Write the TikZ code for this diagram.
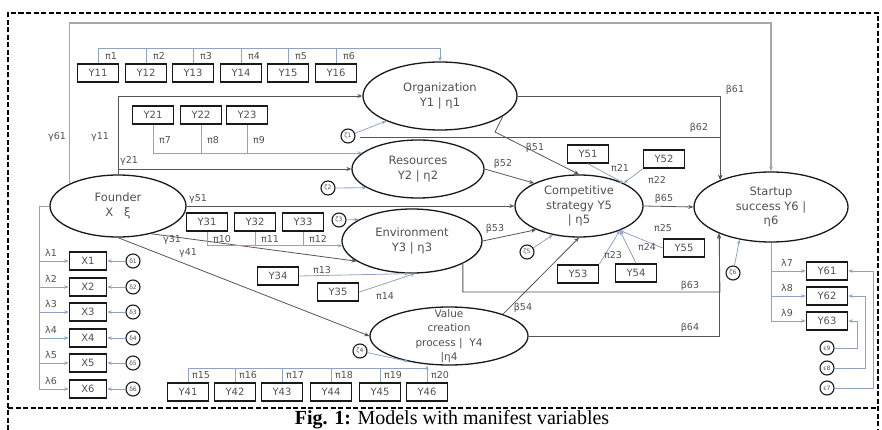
\documentclass[tikz,border=0pt]{standalone}
\usepackage{fontspec}
\setmainfont{Liberation Serif}
\newfontfamily\labf{DejaVu Sans}
\usetikzlibrary{arrows.meta,shapes.geometric}
\definecolor{txtg}{HTML}{505050}
\definecolor{lineg}{HTML}{555555}
\definecolor{indc}{HTML}{8DA4C4}
\definecolor{outg}{HTML}{A8A8A8}
\begin{document}
\begin{tikzpicture}[x=1pt,y=-1pt,
 lat/.style={ellipse,draw=black!90,line width=1.3pt,inner sep=0pt},
 ltx/.style={font=\labf\fontsize{11.5}{14.5}\selectfont,text=txtg,align=center,inner sep=0pt},
 obs/.style={rectangle,draw=black!90,line width=1.6pt,minimum width=41pt,minimum height=18pt,inner sep=0pt,font=\labf\fontsize{10}{11}\selectfont,text=txtg},
 xob/.style={obs,minimum width=37pt},
 err/.style={circle,draw=black!90,line width=1.1pt,minimum size=14pt,inner sep=0pt,font=\labf\fontsize{6}{7}\selectfont,text=txtg},
 cn/.style={draw=lineg,line width=0.8pt,-{Stealth[length=5pt,width=4pt]}},
 outl/.style={draw=outg,line width=1.5pt,-{Stealth[length=5pt,width=4pt]}},
 ind/.style={draw=indc,line width=0.8pt,-{Stealth[length=4.5pt,width=3.5pt]}},
 indn/.style={draw=indc,line width=0.8pt},
 lb/.style={font=\labf\fontsize{9.5}{10}\selectfont,text=txtg,inner sep=1pt},
]
\useasboundingbox (0,0) rectangle (882,430);
% frame
\draw[line width=1.4pt,dash pattern=on 5pt off 2.5pt] (8,430) -- (8,13) -- (878,13) -- (878,430);
\draw[line width=1.4pt,dash pattern=on 5pt off 2.5pt] (8,408) -- (878,408);
\node[inner sep=0pt,anchor=base,font=\fontsize{20}{23}\selectfont] (cap) at (452,424) {\textbf{Fig. 1:} Models with manifest variables};

% latent variables
\node[lat,minimum width=154pt,minimum height=68pt] (org) at (440,96) {};
\node[ltx] (orgT) at (440,96) {Organization\\Y1 | η1};
\node[lat,minimum width=132pt,minimum height=58pt] (res) at (418,169) {};
\node[ltx] (resT) at (418,169) {Resources\\Y2 | η2};
\node[lat,minimum width=136pt,minimum height=62pt] (fou) at (118,206) {};
\node[ltx] (fouT) at (118,206) {Founder\\X \ \ ξ};
\node[lat,minimum width=140pt,minimum height=64pt] (env) at (412,241) {};
\node[ltx] (envT) at (412,241) {Environment\\Y3 | η3};
\node[lat,minimum width=128pt,minimum height=62pt] (cmp) at (579,206) {};
\node[ltx] (cmpT) at (579,206) {Competitive\\strategy Y5\\| η5};
\node[lat,minimum width=154pt,minimum height=70pt] (sta) at (771,207) {};
\node[ltx] (staT) at (771,207) {Startup\\success Y6 |\\η6};
\node[lat,minimum width=158pt,minimum height=58pt] (val) at (449,336) {};
\node[ltx,font=\labf\fontsize{10.5}{14.5}\selectfont] (valT) at (449,336) {Value\\creation\\process | \ Y4\\|η4};

% observed variables
\foreach \i/\x in {1/98,2/146,3/193,4/241,5/288,6/336} \node[obs] (y1\i) at (\x,73) {Y1\i};
\foreach \i/\x in {1/153,2/201,3/247} \node[obs] (y2\i) at (\x,115) {Y2\i};
\foreach \i/\x in {1/207,2/255,3/303} \node[obs] (y3\i) at (\x,222) {Y3\i};
\node[obs] (y34) at (278,276) {Y34};
\node[obs] (y35) at (338,292) {Y35};
\foreach \i/\x in {1/188,2/235,3/282,4/331,5/380,6/427} \node[obs] (y4\i) at (\x,392) {Y4\i};
\node[obs] (y51) at (588,154) {Y51};
\node[obs] (y52) at (664,159) {Y52};
\node[obs] (y53) at (578,274) {Y53};
\node[obs] (y54) at (636,273) {Y54};
\node[obs] (y55) at (684,248) {Y55};
\foreach \i/\y in {1/261,2/287,3/312,4/338,5/363,6/389} {
  \node[xob] (x\i) at (88,\y) {X\i};
  \node[err] (d\i) at (133,\y) {δ\i};
}
\foreach \i/\y in {1/271,2/296,3/321} \node[obs] (y6\i) at (827,\y) {Y6\i};
\node[err] (e9) at (827,348) {ε9};
\node[err] (e8) at (827,368) {ε8};
\node[err] (e7) at (827,388) {ε7};
\node[err] (z1) at (348,136) {ζ1};
\node[err] (z2) at (328,188) {ζ2};
\node[err] (z3) at (339,220) {ζ3};
\node[err] (z4) at (360,351) {ζ4};
\node[err] (z5) at (527,252) {ζ5};
\node[err] (z6) at (733,273) {ζ6};

% coordinates
\coordinate (tr) at (771,23);
\coordinate (p1) at (440,48);
\coordinate (p4) at (427,368);
\coordinate (b51k) at (495,132);
\coordinate (b62s) at (360,137);
\coordinate (b63c) at (720,292);
\coordinate (xl) at (39,206);

% structural paths
\draw[outl] (fou.155.5) |- (tr) -- (sta.north);
\draw[cn] (fou.north) |- (org.west);
\draw[cn] (fou.north) |- (res.west);
\draw[cn] (fou.east) -- (cmp.west);
\draw[cn] (fou.-40) -- (env.200);
\draw[cn] (fou.south) -- (val.west);
\draw[cn] (org.-18) -- (b51k) -- (cmp.north);
\draw[cn] (res.east) -- (cmp.153);
\draw[cn] (env.east) -- (cmp.209);
\draw[cn] (val.22) -- (cmp.south);
\draw[cn] (cmp.east) -- (sta.west);
\draw[cn] (org.east) -| (sta.152.8);
\draw[cn] (b62s) -| (sta.152.8);
\draw[cn] (env.-24.1) |- (b63c) -- (sta.207.2);
\draw[cn] (val.east) -| (sta.207.2);

% indicator brackets
\draw[ind] (y11.north) |- (p1) -- (org.north);
\foreach \i in {2,...,6} \draw[indn] (y1\i.north) -- (y1\i.north |- p1);
\draw[ind] (y21.south) |- (res.164);
\foreach \i in {2,3} \draw[indn] (y2\i.south) -- (y2\i.south |- res.164);
\draw[ind] (y31.south) |- (env.184);
\foreach \i in {2,3} \draw[indn] (y3\i.south) -- (y3\i.south |- env.184);
\draw[ind] (y34.east) -- (env.-95);
\draw[ind] (y35.east) -- (env.-85);
\draw[indn] (y41.north) |- (p4);
\foreach \i in {2,...,5} \draw[indn] (y4\i.north) -- (y4\i.north |- p4);
\draw[ind] (y46.north) -- (y46.north |- val.south);
\draw[ind] (y51.south) -- (cmp.27);
\draw[ind] (y52.south west) -- (cmp.27);
\draw[ind] (y53.north east) -- (cmp.-31);
\draw[ind] (y54.north) -- (cmp.-31);
\draw[ind] (y55.west) -- (cmp.-31);
\draw[indn] (fou.west) -- (xl) -- (xl |- x6.west);
\foreach \i in {1,...,6} {
  \draw[ind] (xl |- x\i.west) -- (x\i.west);
  \draw[ind] (d\i.west) -- (x\i.east);
}
\draw[indn] (sta.south) -- (sta.south |- y63.west);
\foreach \i in {1,2,3} \draw[ind] (sta.south |- y6\i.west) -- (y6\i.west);
\draw[ind] (e9.east) -- ++(23,0) |- (y63.east);
\draw[ind] (e8.east) -- ++(31,0) |- (y62.east);
\draw[ind] (e7.east) -- ++(39,0) |- (y61.east);
\draw[ind] (z1) -- (org.205);
\draw[ind] (z2) -- (res.200);
\draw[ind] (z3) -- (env.158);
\draw[ind] (z4) -- (val.212);
\draw[ind] (z5) -- (cmp.228);
\draw[ind] (z6) -- (sta.226);

% labels
\node[lb] (lg61) at (57,137) {γ61};
\node[lb] (lg11) at (100,137) {γ11};
\node[lb] (lg21) at (129,161) {γ21};
\node[lb] (lg51) at (198,199) {γ51};
\node[lb] (lg31) at (172,240) {γ31};
\node[lb] (lg41) at (188,253) {γ41};
\node[lb] (lb61) at (735,90) {β61};
\node[lb] (lb62) at (699,128) {β62};
\node[lb] (lb51) at (535,148) {β51};
\node[lb] (lb52) at (503,164) {β52};
\node[lb] (lb53) at (495,229) {β53};
\node[lb] (lb54) at (523,308) {β54};
\node[lb] (lb65) at (664,199) {β65};
\node[lb] (lb63) at (690,286) {β63};
\node[lb] (lb64) at (690,328) {β64};
\foreach \i/\x in {1/98,2/146,3/193,4/241,5/288,6/336} \node[lb] (lp\i) at (\x+13,56) {π\i};
\foreach \i/\x in {7/153,8/201,9/247} \node[lb] (lp\i) at (\x+12,140) {π\i};
\foreach \i/\x in {10/207,11/255,12/303} \node[lb] (lp\i) at (\x+15,239) {π\i};
\node[lb] (lp13) at (322,270) {π13};
\node[lb] (lp14) at (385,296) {π14};
\foreach \i/\x in {15/188,16/235,17/282,18/331,19/380,20/427} \node[lb] (lp\i) at (\x+13,375) {π\i};
\node[lb] (lp21) at (620,168) {π21};
\node[lb] (lp22) at (657,180) {π22};
\node[lb] (lp23) at (613,255) {π23};
\node[lb] (lp24) at (647,247) {π24};
\node[lb] (lp25) at (663,228) {π25};
\foreach \i/\y in {1/261,2/287,3/312,4/338,5/363,6/389} \node[lb] (ll\i) at (51,\y-8) {λ\i};
\foreach \i/\y in {7/271,8/296,9/321} \node[lb] (ll\i) at (787,\y-8) {λ\i};
\end{tikzpicture}
\end{document}
